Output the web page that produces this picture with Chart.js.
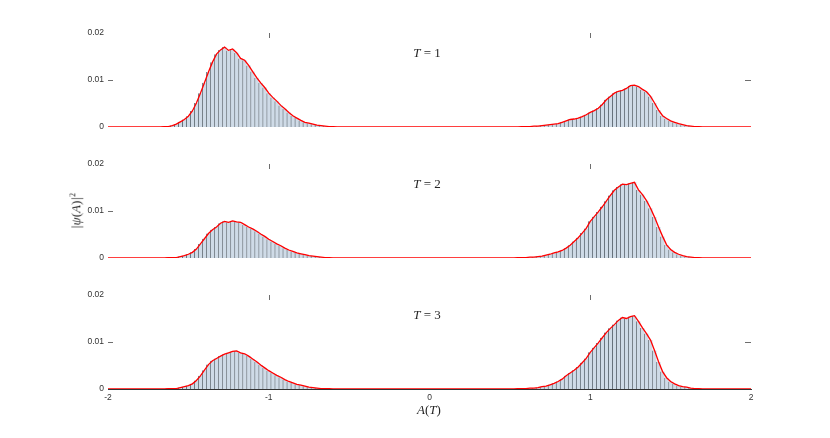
<!DOCTYPE html>
<html>
<head>
<meta charset="utf-8">
<script src="https://cdn.jsdelivr.net/npm/chart.js@4/dist/chart.umd.min.js"></script>
<style>
html,body{margin:0;padding:0;background:#fff;}
#wrap{position:relative;width:830px;height:438px;overflow:hidden;background:#fff;}
#wrap canvas{position:absolute;left:0;}
.lbl{position:absolute;font-family:"Liberation Serif","DejaVu Serif",serif;color:#262626;white-space:nowrap;transform:translate(-50%,-50%);line-height:1;}
</style>
</head>
<body>
<div id="wrap">
  <canvas id="c1" width="830" height="145" style="top:0px"></canvas>
  <canvas id="c2" width="830" height="145" style="top:131px"></canvas>
  <canvas id="c3" width="830" height="176" style="top:262px"></canvas>
  <div class="lbl" id="t1" style="left:427px;top:51.5px;font-size:13px;"></div>
  <div class="lbl" id="t2" style="left:427px;top:182.5px;font-size:13px;"></div>
  <div class="lbl" id="t3" style="left:427px;top:313.5px;font-size:13px;"></div>
  <div class="lbl" id="ylab" style="left:76px;top:211px;font-size:13px;transform:translate(-50%,-50%) rotate(-90deg);"><i>|ψ</i>(<i>A</i>)<i>|</i><sup style="font-size:8px;">2</sup></div>
  <div class="lbl" id="xlab" style="left:429px;top:409px;font-size:13px;"><i>A</i>(<i>T</i>)</div>
</div>
<script>
// ---- data ----
const panelTimes = [1, 2, 3];
const xTicks = [-2, -1, 0, 1, 2];
const yTicks = [0, 0.01, 0.02];
const topTickValues = [-1, 1];
const sideTickValues = [0.01];
const binStep = 0.025;
const xMin = -2, xMax = 2;
const leftStart = -1.7;   // first bin of left-peak arrays
const rightStart = 0.55;  // first bin of right-peak arrays

const t1Left = [0.0000,0.0000,0.0001,0.0001,0.0003,0.0006,0.0011,0.0016,0.0023,0.0034,
  0.0051,0.0072,0.0094,0.0117,0.0138,0.0155,0.0164,0.0170,0.0163,0.0166,
  0.0158,0.0146,0.0142,0.0131,0.0118,0.0105,0.0094,0.0084,0.0072,0.0063,
  0.0055,0.0046,0.0039,0.0031,0.0024,0.0019,0.0014,0.0010,0.0008,0.0006,
  0.0004,0.0003,0.0002,0.0001,0.0001,0.0000];
const t1Right = [0.0000,0.0001,0.0001,0.0001,0.0002,0.0002,0.0003,0.0004,0.0005,0.0006,
  0.0007,0.0010,0.0013,0.0016,0.0017,0.0019,0.0022,0.0026,0.0031,0.0035,
  0.0040,0.0048,0.0058,0.0065,0.0072,0.0076,0.0078,0.0082,0.0088,0.0089,
  0.0086,0.0080,0.0075,0.0065,0.0051,0.0036,0.0024,0.0018,0.0013,0.0010,
  0.0007,0.0005,0.0003,0.0002,0.0001,0.0001,0.0000,0.0000];
const t2Left = [0.0000,0.0000,0.0000,0.0001,0.0001,0.0001,0.0003,0.0005,0.0008,0.0012,
  0.0019,0.0030,0.0041,0.0052,0.0060,0.0066,0.0074,0.0078,0.0076,0.0079,
  0.0077,0.0076,0.0071,0.0066,0.0062,0.0057,0.0051,0.0046,0.0040,0.0035,
  0.0030,0.0026,0.0021,0.0017,0.0014,0.0011,0.0009,0.0007,0.0005,0.0004,
  0.0003,0.0002,0.0001,0.0001,0.0000,0.0000];
const t2Right = [0.0001,0.0001,0.0001,0.0002,0.0002,0.0003,0.0004,0.0006,0.0008,0.0011,
  0.0013,0.0016,0.0021,0.0027,0.0035,0.0043,0.0053,0.0063,0.0078,0.0088,
  0.0098,0.0109,0.0121,0.0133,0.0144,0.0151,0.0157,0.0156,0.0159,0.0161,
  0.0145,0.0135,0.0122,0.0106,0.0087,0.0066,0.0046,0.0028,0.0018,0.0012,
  0.0008,0.0005,0.0003,0.0002,0.0001,0.0001,0.0000,0.0000];
const t3Left = [0.0000,0.0000,0.0000,0.0001,0.0001,0.0001,0.0003,0.0005,0.0007,0.0011,
  0.0018,0.0028,0.0040,0.0052,0.0060,0.0065,0.0070,0.0074,0.0077,0.0080,
  0.0081,0.0077,0.0075,0.0070,0.0064,0.0058,0.0051,0.0045,0.0039,0.0034,
  0.0029,0.0025,0.0020,0.0016,0.0013,0.0010,0.0008,0.0006,0.0004,0.0003,
  0.0002,0.0001,0.0001,0.0001,0.0000,0.0000];
const t3Right = [0.0001,0.0001,0.0001,0.0002,0.0002,0.0003,0.0005,0.0006,0.0009,0.0012,
  0.0016,0.0021,0.0028,0.0034,0.0040,0.0047,0.0056,0.0065,0.0078,0.0088,
  0.0098,0.0109,0.0120,0.0129,0.0137,0.0146,0.0152,0.0150,0.0154,0.0156,
  0.0144,0.0130,0.0118,0.0104,0.0082,0.0058,0.0037,0.0024,0.0016,0.0011,
  0.0007,0.0005,0.0004,0.0002,0.0001,0.0001,0.0000,0.0000];

// ---- build ----
function buildSeries(left, right) {
  const n = Math.round((xMax - xMin) / binStep) + 1;
  const pts = [];
  for (let i = 0; i < n; i++) pts.push({ x: +(xMin + i * binStep).toFixed(4), y: 0 });
  const li = Math.round((leftStart - xMin) / binStep);
  left.forEach((v, k) => { pts[li + k].y = v; });
  const ri = Math.round((rightStart - xMin) / binStep);
  right.forEach((v, k) => { pts[ri + k].y = v; });
  return pts;
}

const inwardTicks = {
  id: 'inwardTicks',
  afterDatasetsDraw(chart, args, opts) {
    const { ctx, chartArea: a, scales: { x, y } } = chart;
    ctx.save();
    ctx.strokeStyle = '#6e6e6e';
    ctx.lineWidth = 1;
    ctx.beginPath();
    (opts.top || []).forEach(v => {
      const px = Math.round(x.getPixelForValue(v)) + 0.5;
      ctx.moveTo(px, a.top); ctx.lineTo(px, a.top + 5);
    });
    (opts.left || []).forEach(v => {
      const py = Math.round(y.getPixelForValue(v)) + 0.5;
      ctx.moveTo(a.left, py); ctx.lineTo(a.left + 5, py);
    });
    (opts.right || []).forEach(v => {
      const py = Math.round(y.getPixelForValue(v)) + 0.5;
      ctx.moveTo(a.right - 6, py); ctx.lineTo(a.right, py);
    });
    ctx.stroke();
    ctx.restore();
  }
};

function makePanel(id, left, right, isBottom, rightTicks) {
  const pts = buildSeries(left, right);
  return new Chart(document.getElementById(id), {
    type: 'bar',
    data: {
      datasets: [
        {
          type: 'line', data: pts, borderColor: '#ff0000', borderWidth: 1.3,
          pointRadius: 0, tension: 0, order: 0, fill: false
        },
        {
          type: 'bar', data: pts, backgroundColor: '#cfdbe7',
          borderColor: 'rgba(60,72,82,0.9)',
          borderWidth: { left: 0.8, right: 0, top: 0, bottom: 0 },
          borderSkipped: false,
          barPercentage: 1, categoryPercentage: 1, order: 1
        }
      ]
    },
    options: {
      responsive: false,
      animation: false,
      devicePixelRatio: 1,
      layout: { padding: { top: 33, right: 79, bottom: isBottom ? 0 : 18, left: 0 } },
      plugins: {
        legend: { display: false }, tooltip: { enabled: false }, title: { display: false },
        inwardTicks: { top: topTickValues, left: sideTickValues, right: rightTicks ? sideTickValues : [] }
      },
      scales: {
        x: {
          type: 'linear', min: xMin, max: xMax, offset: false,
          display: isBottom,
          afterBuildTicks: s => { s.ticks = xTicks.map(v => ({ value: v })); },
          afterFit: s => { if (isBottom) s.height = 49; },
          grid: { display: false, drawTicks: false },
          border: { display: true, color: '#333333', width: 1 },
          ticks: {
            padding: 4, color: '#333333', maxRotation: 0,
            font: { family: 'Liberation Sans, Arial, sans-serif', size: 8.5 },
            callback: v => String(v)
          }
        },
        y: {
          type: 'linear', min: 0, max: 0.02,
          afterBuildTicks: s => { s.ticks = yTicks.map(v => ({ value: v })); },
          afterFit: s => { s.width = 108; },
          grid: { display: false, drawTicks: false },
          border: { display: false },
          ticks: {
            padding: 4, color: '#333333',
            font: { family: 'Liberation Sans, Arial, sans-serif', size: 8.5 },
            callback: v => String(+v.toFixed(2))
          }
        }
      }
    },
    plugins: [inwardTicks]
  });
}

makePanel('c1', t1Left, t1Right, false, true);
makePanel('c2', t2Left, t2Right, false, false);
makePanel('c3', t3Left, t3Right, true, true);

['t1', 't2', 't3'].forEach((id, i) => {
  document.getElementById(id).innerHTML = '<i>T</i> = ' + panelTimes[i];
});
</script>
</body>
</html>
